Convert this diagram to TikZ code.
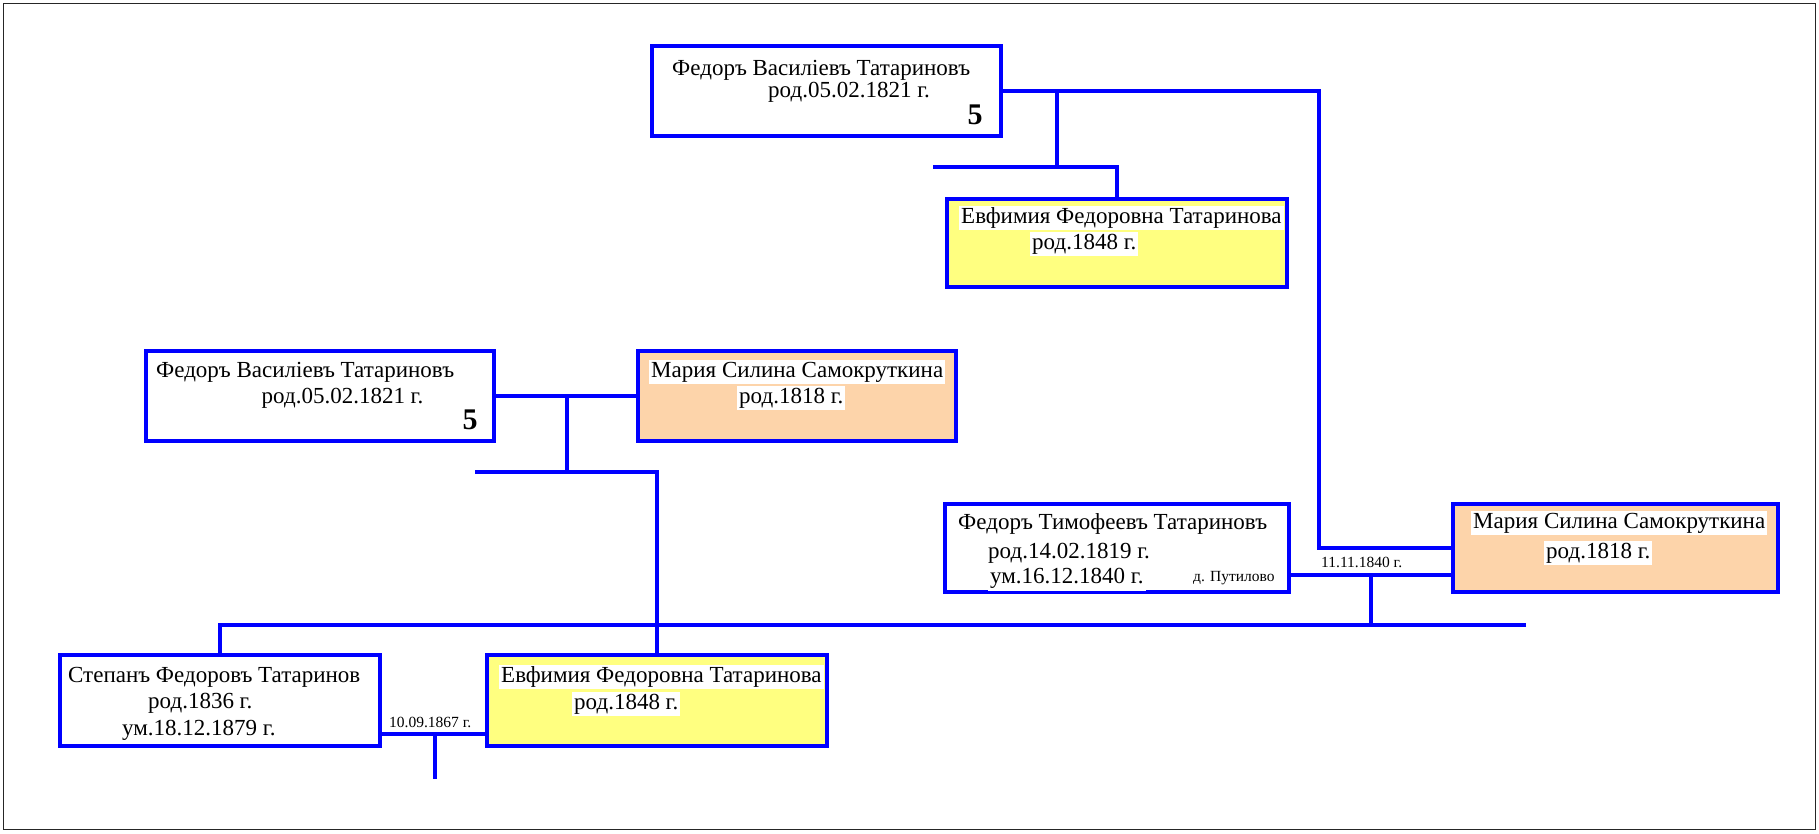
\documentclass[tikz,border=0pt]{standalone}
\usepackage{fontspec}
\setmainfont{Liberation Serif}
\definecolor{lnblue}{RGB}{0,0,255}
\definecolor{yel}{RGB}{255,255,128}
\definecolor{peach}{RGB}{253,212,170}
\begin{document}
\begin{tikzpicture}[x=1pt,y=-1pt,
  box/.style={draw=lnblue, line width=4pt, rectangle, inner sep=0pt, outer sep=0pt},
  conn/.style={draw=lnblue, line width=4pt, line join=miter},
  txt/.style={anchor=base west, inner sep=0pt, font=\fontsize{23}{26}\selectfont},
  hl/.style={txt, fill=white, inner xsep=2pt, inner ysep=0pt, text height=17pt, text depth=7pt},
  small/.style={anchor=base west, inner sep=0pt, font=\fontsize{15.5}{17}\selectfont},
  num/.style={anchor=base, inner sep=0pt, font=\fontsize{30}{32}\selectfont\bfseries}]
\path[use as bounding box] (0,0) rectangle (1819,833);
\draw[black!85, line width=1.5pt] (3.5,3.5) rectangle (1815.5,829.5);

% boxes
\node[box, fill=white, minimum width=349pt, minimum height=90pt] (A) at (826.5,91) {};
\node[box, fill=yel,   minimum width=340pt, minimum height=88pt] (B) at (1117,243) {};
\node[box, fill=white, minimum width=348pt, minimum height=90pt] (C) at (320,396) {};
\node[box, fill=peach, minimum width=318pt, minimum height=90pt] (D) at (797,396) {};
\node[box, fill=white, minimum width=344pt, minimum height=88pt] (E) at (1117,548) {};
\node[box, fill=peach, minimum width=325pt, minimum height=88pt] (G) at (1615.5,548) {};
\node[box, fill=white, minimum width=320pt, minimum height=91pt] (H) at (220,700.5) {};
\node[box, fill=yel,   minimum width=340pt, minimum height=91pt] (F) at (657,700.5) {};

% junction coordinates
\coordinate (jA) at (1057,91);
\coordinate (barB) at (1057,167);
\coordinate (barBl) at (933,167);
\coordinate (rA) at (1319,91);
\coordinate (jC) at (567,396);
\coordinate (barF) at (567,472);
\coordinate (barFl) at (475,472);
\coordinate (m1) at (1371,575);
\coordinate (bar2) at (1371,625);
\coordinate (bar2r) at (1526,625);
\coordinate (m2) at (435,734);
\coordinate (m2d) at (435,779);

% connectors
\draw[conn] (A.east) -- (rA) -- (rA |- G.west) -- (G.west);
\draw[conn] (jA) -- (barB);
\draw[conn] (barBl) -| (B.north);
\draw[conn] (C.east) -- (D.west);
\draw[conn] (jC) -- (barF);
\draw[conn] (barFl) -| (F.north);
\draw[conn] (E.east |- m1) -- (G.west |- m1);
\draw[conn] (m1) -- (bar2);
\draw[conn] (bar2r) -- (H.north |- bar2) -- (H.north);
\draw[conn] (H.east |- m2) -- (F.west |- m2);
\draw[conn] (m2) -- (m2d);

% texts
\node[txt] (a1) at (672,75) {Федоръ Василіевъ Татариновъ};
\node[txt] (a2) at (768,97) {род.05.02.1821 г.};
\node[num] (a5) at (975,124) {5};

\node[hl] (b1) at (959,223) {Евфимия Федоровна Татаринова};
\node[hl] (b2) at (1030,249) {род.1848 г.};

\node[txt] (c1) at (156,377) {Федоръ Василіевъ Татариновъ};
\node[txt] (c2) at (261.5,403) {род.05.02.1821 г.};
\node[num] (c5) at (470,429) {5};

\node[hl] (d1) at (649,377) {Мария Силина Самокруткина};
\node[hl] (d2) at (737,403) {род.1818 г.};

\node[txt] (e1) at (958,529) {Федоръ Тимофеевъ Татариновъ};
\node[txt] (e2) at (988,558) {род.14.02.1819 г.};
\node[hl, text depth=8pt] (e3) at (988,583) {ум.16.12.1840 г.};
\node[small] (put) at (1193,581) {д. Путилово};

\node[hl] (g1) at (1471,528) {Мария Силина Самокруткина};
\node[hl] (g2) at (1544,558) {род.1818 г.};

\node[txt] (h1) at (68,682) {Степанъ Федоровъ Татаринов};
\node[txt] (h2) at (148,708) {род.1836 г.};
\node[txt] (h3) at (122,735) {ум.18.12.1879 г.};

\node[hl] (f1) at (499,682) {Евфимия Федоровна Татаринова};
\node[hl] (f2) at (572,709) {род.1848 г.};

\node[small] (l1) at (1321,567) {11.11.1840 г.};
\node[small] (l2) at (389,727) {10.09.1867 г.};
\end{tikzpicture}
\end{document}
